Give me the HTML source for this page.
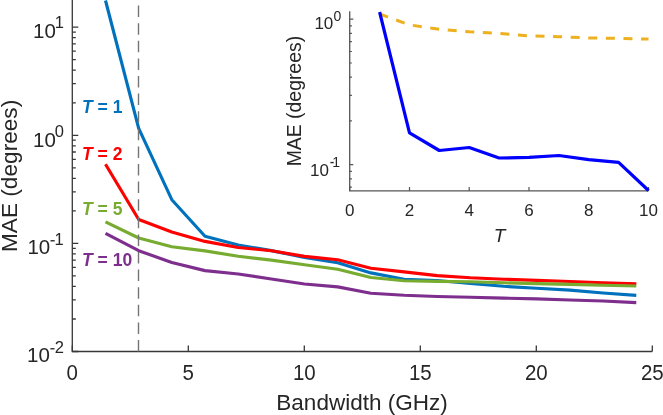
<!DOCTYPE html>
<html><head><meta charset="utf-8"><style>
html,body{margin:0;padding:0;background:#fff;}
body{width:663px;height:415px;overflow:hidden;font-family:"Liberation Sans",sans-serif;}
svg{display:block;will-change:transform}
</style></head><body>
<svg width="663" height="415" viewBox="0 0 663 415">
<rect width="663" height="415" fill="#fff"/>
<path d="M72.3,0 V351.5 H652.3" fill="none" stroke="#383838" stroke-width="1.3"/>
<path d="M72.3,351.5 v-6 M188.3,351.5 v-6 M304.3,351.5 v-6 M420.3,351.5 v-6 M536.3,351.5 v-6 M652.3,351.5 v-6 M72.3,351.5 h6 M72.3,319.0 h3.5 M72.3,299.9 h3.5 M72.3,286.4 h3.5 M72.3,275.9 h3.5 M72.3,267.4 h3.5 M72.3,260.1 h3.5 M72.3,253.9 h3.5 M72.3,248.3 h3.5 M72.3,243.4 h6 M72.3,210.9 h3.5 M72.3,191.8 h3.5 M72.3,178.3 h3.5 M72.3,167.8 h3.5 M72.3,159.3 h3.5 M72.3,152.0 h3.5 M72.3,145.8 h3.5 M72.3,140.2 h3.5 M72.3,135.3 h6 M72.3,102.8 h3.5 M72.3,83.7 h3.5 M72.3,70.2 h3.5 M72.3,59.7 h3.5 M72.3,51.2 h3.5 M72.3,43.9 h3.5 M72.3,37.7 h3.5 M72.3,32.1 h3.5 M72.3,27.2 h6" stroke="#383838" stroke-width="1.3" fill="none"/>
<polyline points="105.5,0.5 138.7,128.4 171.8,199.7 205.0,236.2 238.2,245.0 271.4,250.6 304.5,257.5 337.7,262.8 370.9,272.9 404.1,279.3 437.2,280.5 470.4,283.5 503.6,286.3 536.8,288.3 569.9,290.1 603.1,293.0 636.3,295.4" fill="none" stroke="#0072BD" stroke-width="3.15" stroke-linejoin="round"/>
<polyline points="105.5,164.3 138.7,219.5 171.8,232.0 205.0,241.4 238.2,247.5 271.4,250.7 304.5,256.4 337.7,259.8 370.9,268.3 404.1,271.9 437.2,275.6 470.4,277.8 503.6,279.2 536.8,280.4 569.9,281.5 603.1,282.8 636.3,283.8" fill="none" stroke="#FF0000" stroke-width="3.15" stroke-linejoin="round"/>
<polyline points="105.5,221.8 138.7,238.0 171.8,246.8 205.0,250.9 238.2,256.3 271.4,260.1 304.5,264.8 337.7,269.3 370.9,277.5 404.1,280.8 437.2,281.4 470.4,281.8 503.6,282.8 536.8,283.6 569.9,284.4 603.1,285.2 636.3,286.0" fill="none" stroke="#77AC30" stroke-width="3.15" stroke-linejoin="round"/>
<polyline points="105.5,233.3 138.7,250.7 171.8,262.5 205.0,270.6 238.2,274.0 271.4,279.0 304.5,284.0 337.7,286.9 370.9,293.3 404.1,295.3 437.2,296.5 470.4,297.3 503.6,298.1 536.8,298.9 569.9,300.0 603.1,301.0 636.3,302.6" fill="none" stroke="#7E2F8E" stroke-width="3.15" stroke-linejoin="round"/>
<line x1="138.5" y1="351.5" x2="138.5" y2="0" stroke="#757575" stroke-width="1.4" stroke-dasharray="11.5 6.1"/>
<path d="M349.7,11.3 V190.9 H648.6" fill="none" stroke="#555" stroke-width="1.3"/>
<path d="M349.7,190.9 v-4 M409.5,190.9 v-4 M469.2,190.9 v-4 M529.0,190.9 v-4 M588.7,190.9 v-4 M648.5,190.9 v-4 M349.7,187.2 h2.2 M349.7,178.8 h2.2 M349.7,171.4 h2.2 M349.7,164.7 h3.6 M349.7,120.9 h2.2 M349.7,95.3 h2.2 M349.7,77.1 h2.2 M349.7,63.0 h2.2 M349.7,51.5 h2.2 M349.7,41.7 h2.2 M349.7,33.3 h2.2 M349.7,25.9 h2.2 M349.7,19.2 h3.6" stroke="#555" stroke-width="1.2" fill="none"/>
<polyline points="379.6,14.0 409.5,24.9 439.3,29.2 469.2,31.8 499.1,33.3 529.0,35.9 558.9,36.7 588.7,38.0 618.6,38.4 648.5,39.1" fill="none" stroke="#EDB120" stroke-width="3" stroke-dasharray="9 8.6"/>
<polyline points="379.6,12.0 409.5,132.8 439.3,150.5 469.2,147.5 499.1,158.0 529.0,157.4 558.9,155.5 588.7,159.7 618.6,162.3 648.5,190.5" fill="none" stroke="#0000FF" stroke-width="3.2" stroke-linejoin="round"/>
<text transform="translate(72.3,379.8) scale(1,1.07)" font-family="Liberation Sans, sans-serif" font-size="20.5" fill="#262626" text-anchor="middle">0</text>
<text transform="translate(188.3,379.8) scale(1,1.07)" font-family="Liberation Sans, sans-serif" font-size="20.5" fill="#262626" text-anchor="middle">5</text>
<text transform="translate(304.3,379.8) scale(1,1.07)" font-family="Liberation Sans, sans-serif" font-size="20.5" fill="#262626" text-anchor="middle">10</text>
<text transform="translate(420.3,379.8) scale(1,1.07)" font-family="Liberation Sans, sans-serif" font-size="20.5" fill="#262626" text-anchor="middle">15</text>
<text transform="translate(536.3,379.8) scale(1,1.07)" font-family="Liberation Sans, sans-serif" font-size="20.5" fill="#262626" text-anchor="middle">20</text>
<text transform="translate(652.3,379.8) scale(1,1.07)" font-family="Liberation Sans, sans-serif" font-size="20.5" fill="#262626" text-anchor="middle">25</text>
<text x="55.8" y="37.9" font-family="Liberation Sans, sans-serif" font-size="20.5" fill="#262626" text-anchor="end">10</text>
<text x="59.4" y="27.7" font-family="Liberation Sans, sans-serif" font-size="16.5" fill="#262626" text-anchor="middle">1</text>
<text x="55.9" y="146.8" font-family="Liberation Sans, sans-serif" font-size="20.5" fill="#262626" text-anchor="end">10</text>
<text x="59.3" y="136.8" font-family="Liberation Sans, sans-serif" font-size="16.5" fill="#262626" text-anchor="middle">0</text>
<text x="50.2" y="254.4" font-family="Liberation Sans, sans-serif" font-size="20.5" fill="#262626" text-anchor="end">10</text>
<text x="59.2" y="244.8" font-family="Liberation Sans, sans-serif" font-size="16.5" fill="#262626" text-anchor="middle">1</text>
<rect x="50.5" y="240.1" width="4.2" height="1.35" fill="#262626"/>
<text x="49.8" y="362.1" font-family="Liberation Sans, sans-serif" font-size="20.5" fill="#262626" text-anchor="end">10</text>
<text x="59.4" y="352.8" font-family="Liberation Sans, sans-serif" font-size="16.5" fill="#262626" text-anchor="middle">2</text>
<rect x="50.4" y="348.1" width="4.1" height="1.35" fill="#262626"/>
<text x="349.7" y="216.4" font-family="Liberation Sans, sans-serif" font-size="17" fill="#262626" text-anchor="middle">0</text>
<text x="409.5" y="216.4" font-family="Liberation Sans, sans-serif" font-size="17" fill="#262626" text-anchor="middle">2</text>
<text x="469.2" y="216.4" font-family="Liberation Sans, sans-serif" font-size="17" fill="#262626" text-anchor="middle">4</text>
<text x="529.0" y="216.4" font-family="Liberation Sans, sans-serif" font-size="17" fill="#262626" text-anchor="middle">6</text>
<text x="588.7" y="216.4" font-family="Liberation Sans, sans-serif" font-size="17" fill="#262626" text-anchor="middle">8</text>
<text x="648.5" y="216.4" font-family="Liberation Sans, sans-serif" font-size="17" fill="#262626" text-anchor="middle">10</text>
<text x="333.3" y="29.1" font-family="Liberation Sans, sans-serif" font-size="17" fill="#262626" text-anchor="end">10</text>
<text x="337.4" y="20.9" font-family="Liberation Sans, sans-serif" font-size="14" fill="#262626" text-anchor="middle">0</text>
<text x="328.9" y="175.6" font-family="Liberation Sans, sans-serif" font-size="17" fill="#262626" text-anchor="end">10</text>
<text x="336.2" y="166.7" font-family="Liberation Sans, sans-serif" font-size="14" fill="#262626" text-anchor="middle">1</text>
<rect x="330.4" y="161.9" width="3.3" height="1.35" fill="#262626"/>
<text x="362" y="409.5" font-family="Liberation Sans, sans-serif" font-size="22.5" fill="#262626" text-anchor="middle">Bandwidth (GHz)</text>
<text transform="translate(16.6,175.9) rotate(-90)" font-family="Liberation Sans, sans-serif" font-size="22.65" fill="#262626" text-anchor="middle">MAE (degrees)</text>
<text transform="translate(300.8,101.1) rotate(-90)" font-family="Liberation Sans, sans-serif" font-size="19.4" fill="#262626" text-anchor="middle">MAE (degrees)</text>
<text x="499.6" y="241.6" font-family="Liberation Sans, sans-serif" font-size="19" font-style="italic" fill="#262626" text-anchor="middle">T</text>
<text x="82" y="112.6" font-family="Liberation Sans, sans-serif" font-size="17.5" font-weight="bold" fill="#0072BD"><tspan font-style="italic">T</tspan> = 1</text>
<text x="82" y="159.7" font-family="Liberation Sans, sans-serif" font-size="17.5" font-weight="bold" fill="#FF0000"><tspan font-style="italic">T</tspan> = 2</text>
<text x="82" y="214.7" font-family="Liberation Sans, sans-serif" font-size="17.5" font-weight="bold" fill="#77AC30"><tspan font-style="italic">T</tspan> = 5</text>
<text x="82" y="265.7" font-family="Liberation Sans, sans-serif" font-size="17.5" font-weight="bold" fill="#7E2F8E"><tspan font-style="italic">T</tspan> = 10</text>
</svg>
</body></html>
